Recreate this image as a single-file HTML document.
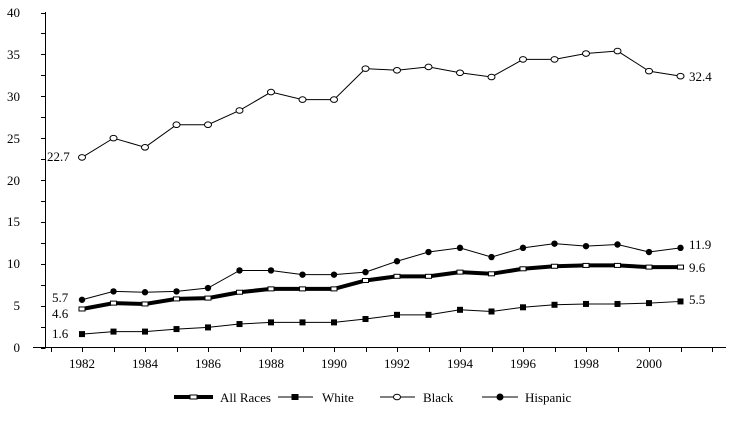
<!DOCTYPE html>
<html><head><meta charset="utf-8"><style>
html,body{margin:0;padding:0;background:#fff;}
svg text{font-family:"Liberation Serif",serif;font-size:13px;fill:#000;}
</style></head><body>
<svg id="c" width="738" height="421" viewBox="0 0 738 421" xmlns="http://www.w3.org/2000/svg">
<g stroke="#000" stroke-width="1" fill="none" shape-rendering="crispEdges">
<line x1="45.5" y1="12" x2="45.5" y2="347.5"/>
<line x1="33" y1="347.5" x2="726" y2="347.5"/>
</g>
<g id="ticks" stroke="#000" shape-rendering="crispEdges"></g>
<g text-anchor="end">
<text x="20" y="352">0</text><text x="20" y="310">5</text><text x="20" y="268">10</text><text x="20" y="226">15</text>
<text x="20" y="185">20</text><text x="20" y="143">25</text><text x="20" y="101">30</text><text x="20" y="59">35</text><text x="20" y="17">40</text>
</g>
<g text-anchor="middle">
<text x="82" y="368">1982</text><text x="145" y="368">1984</text><text x="208" y="368">1986</text><text x="271" y="368">1988</text><text x="334" y="368">1990</text>
<text x="397" y="368">1992</text><text x="460" y="368">1994</text><text x="523" y="368">1996</text><text x="586" y="368">1998</text><text x="649" y="368">2000</text>
</g>
<text x="47" y="161">22.7</text>
<text x="52" y="302">5.7</text>
<text x="52" y="318">4.6</text>
<text x="52" y="338">1.6</text>
<text x="689" y="81">32.4</text>
<text x="689" y="249">11.9</text>
<text x="689" y="272">9.6</text>
<text x="689" y="304">5.5</text>
<g id="series"></g>
<g stroke="#000" fill="none">
<line x1="174" y1="397" x2="213" y2="397" stroke-width="4"/><rect x="190" y="395" width="7" height="4" fill="#fff" stroke-width="1"/>
<line x1="278" y1="397" x2="313" y2="397"/><rect x="292" y="394.5" width="6" height="5" fill="#000"/>
<line x1="380" y1="397" x2="415" y2="397"/><ellipse cx="397" cy="397" rx="3.5" ry="2.8" fill="#fff"/>
<line x1="482" y1="397" x2="518" y2="397"/><circle cx="500" cy="397" r="3" fill="#000"/>
</g>
<text x="220" y="402">All Races</text><text x="322" y="402">White</text><text x="423" y="402">Black</text><text x="525" y="402">Hispanic</text>
</svg>
<script>
var NS="http://www.w3.org/2000/svg";
function X(i){return 82+i*31.5;}function Y(v){return 347.5-8.375*v;}
var t=document.getElementById("ticks"),s=document.getElementById("series");
function el(n,a,p){var e=document.createElementNS(NS,n);for(var k in a)e.setAttribute(k,a[k]);p.appendChild(e);return e;}
for(var v=0;v<=40;v+=2.5){el("line",{x1:41,x2:45.5,y1:Math.round(Y(v))+.5,y2:Math.round(Y(v))+.5},t);}
for(var i=-1;i<=20;i++){var x=Math.round(X(i))+.5;el("line",{x1:x,x2:x,y1:347.5,y2:352},t);}
var D={
black:[22.7,25.0,23.9,26.6,26.6,28.3,30.5,29.6,29.6,33.3,33.1,33.5,32.8,32.3,34.4,34.4,35.1,35.4,33.0,32.4],
hisp:[5.7,6.7,6.6,6.7,7.1,9.2,9.2,8.7,8.7,9.0,10.3,11.4,11.9,10.8,11.9,12.4,12.1,12.3,11.4,11.9],
all:[4.6,5.3,5.2,5.8,5.9,6.6,7.0,7.0,7.0,8.0,8.5,8.5,9.0,8.8,9.4,9.7,9.8,9.8,9.6,9.6],
white:[1.6,1.9,1.9,2.2,2.4,2.8,3.0,3.0,3.0,3.4,3.9,3.9,4.5,4.3,4.8,5.1,5.2,5.2,5.3,5.5]};
function pts(a){return a.map(function(v,i){return X(i)+","+Y(v);}).join(" ");}
el("polyline",{points:pts(D.white),stroke:"#000",fill:"none"},s);
D.white.forEach(function(v,i){el("rect",{x:X(i)-3,y:Y(v)-3,width:6,height:6,fill:"#000"},s);});
el("polyline",{points:pts(D.all),stroke:"#000","stroke-width":4,fill:"none"},s);
D.all.forEach(function(v,i){el("rect",{x:X(i)-3,y:Y(v)-2,width:6,height:4,fill:"#fff",stroke:"#000","stroke-width":1},s);});
el("polyline",{points:pts(D.hisp),stroke:"#000",fill:"none"},s);
D.hisp.forEach(function(v,i){el("circle",{cx:X(i),cy:Y(v),r:3.2,fill:"#000"},s);});
el("polyline",{points:pts(D.black),stroke:"#000",fill:"none"},s);
D.black.forEach(function(v,i){el("ellipse",{cx:X(i),cy:Y(v),rx:3.5,ry:2.8,fill:"#fff",stroke:"#000"},s);});
</script>
</body></html>
